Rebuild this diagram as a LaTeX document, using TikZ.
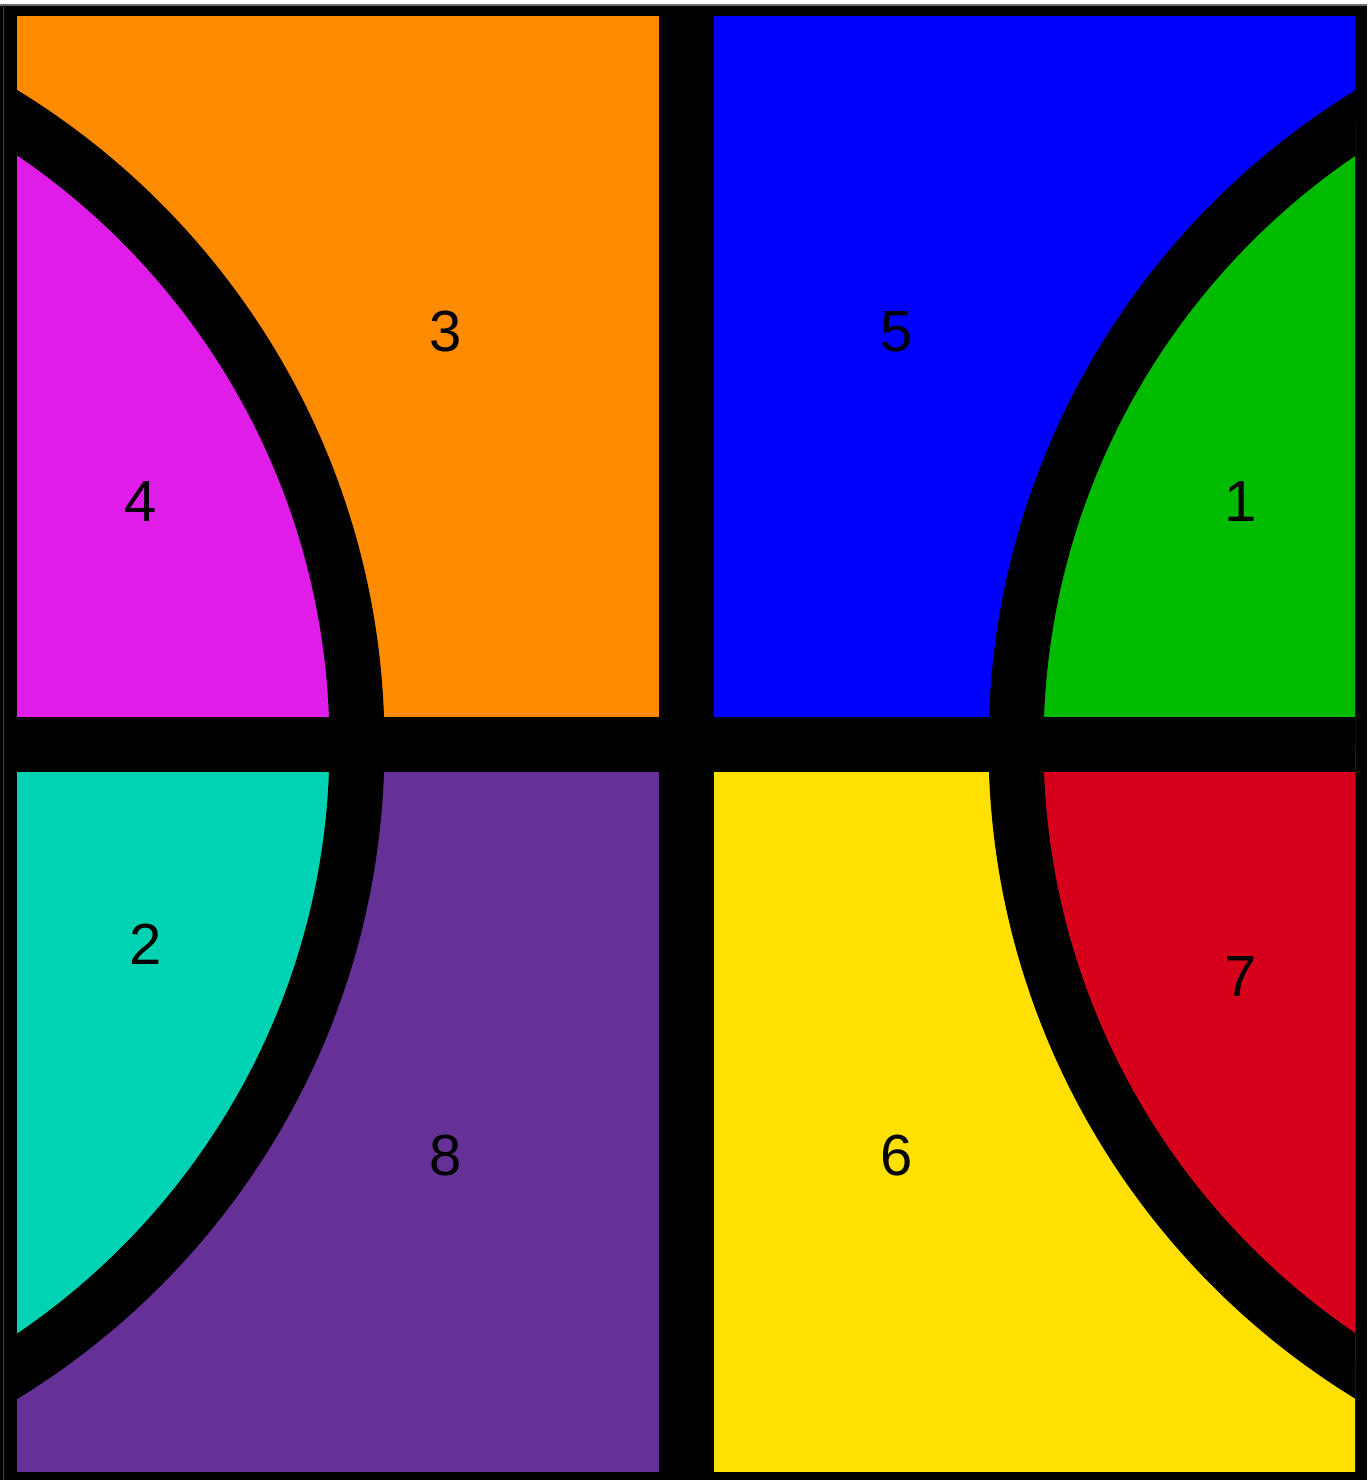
\documentclass[tikz,border=0pt]{standalone}
\usepackage{fontspec}
\setmainfont{Liberation Sans}
\definecolor{cOrange}{RGB}{255,140,0}
\definecolor{cMagenta}{RGB}{223,28,232}
\definecolor{cBlue}{RGB}{0,0,255}
\definecolor{cGreen}{RGB}{0,187,0}
\definecolor{cTeal}{RGB}{0,210,180}
\definecolor{cPurple}{RGB}{102,49,150}
\definecolor{cYellow}{RGB}{255,224,0}
\definecolor{cRed}{RGB}{215,0,26}
\definecolor{cEdge}{RGB}{110,110,110}
\begin{document}
\begin{tikzpicture}[x=1pt,y=-1pt,
  lbl/.style={font=\fontsize{58}{60}\selectfont, text=black, inner sep=0pt},
  band/.style={line width=55pt, draw=black},
  bar/.style={fill=black}]
\useasboundingbox (0,0) rectangle (1372,1480);
\fill[white] (0,0) rectangle (1372,1480);
\fill[black] (0,5) rectangle (1367,1481);
\draw[cEdge, line width=1.5pt] (0,5) -- (1367,5);
\draw[cEdge!60!black, line width=1pt] (3,5) -- (3,1480);
\begin{scope}
  \clip (17,17) rectangle (1355,1471);
  % quadrant base colours
  \fill[cOrange] (0,0) rectangle (686.5,744.5);
  \fill[cBlue] (686.5,0) rectangle (1372,744.5);
  \fill[cPurple] (0,744.5) rectangle (686.5,1480);
  \fill[cYellow] (686.5,744.5) rectangle (1372,1480);
  % circle-side colours
  \begin{scope}
    \clip (0,0) rectangle (686.5,744.5);
    \fill[cMagenta] (-382,744.5) circle[radius=739pt];
  \end{scope}
  \begin{scope}
    \clip (0,744.5) rectangle (686.5,1480);
    \fill[cTeal] (-382,744.5) circle[radius=739pt];
  \end{scope}
  \begin{scope}
    \clip (686.5,0) rectangle (1372,744.5);
    \fill[cGreen] (1755,744.5) circle[radius=739pt];
  \end{scope}
  \begin{scope}
    \clip (686.5,744.5) rectangle (1372,1480);
    \fill[cRed] (1755,744.5) circle[radius=739pt];
  \end{scope}
  % black separators
  \fill[bar] (659,0) rectangle (714,1480);
  \fill[bar] (0,717) rectangle (1372,772);
  \draw[band] (-382,744.5) circle[radius=739pt];
  \draw[band] (1755,744.5) circle[radius=739pt];
\end{scope}
% labels
\node[lbl] (l3) at (446,332) {3};
\node[lbl] (l4) at (141,502) {4};
\node[lbl] (l5) at (897,332) {5};
\node[lbl] (l1) at (1241,502) {1};
\node[lbl] (l2) at (146,944) {2};
\node[lbl] (l7) at (1241,977) {7};
\node[lbl] (l8) at (446,1156) {8};
\node[lbl] (l6) at (897,1156) {6};
\end{tikzpicture}
\end{document}
